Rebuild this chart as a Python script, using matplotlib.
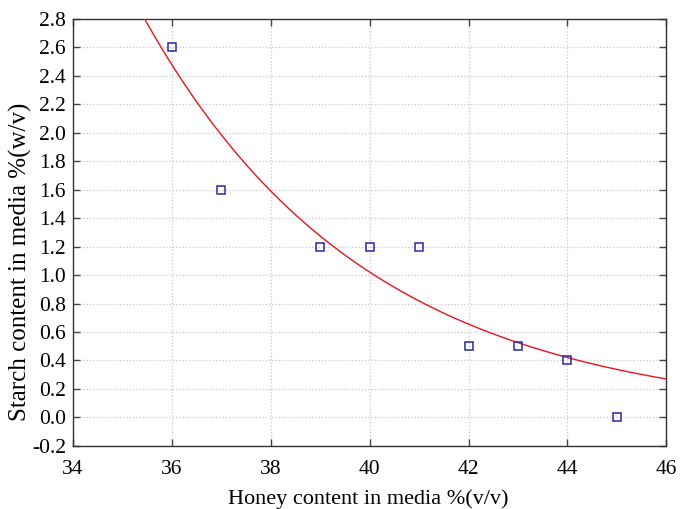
import numpy as np
import matplotlib
matplotlib.use('Agg')
import matplotlib.pyplot as plt

# measured points
honey = [36, 37, 39, 40, 41, 42, 43, 44, 45]
starch = [2.6, 1.6, 1.2, 1.2, 1.2, 0.5, 0.5, 0.4, 0.0]

# exponential fit: y = fit_a * exp(-fit_b * (x - 36))
fit_a = 2.477
fit_b = 0.2216

plt.rcParams['font.family'] = ['Liberation Serif', 'DejaVu Serif']

fig = plt.figure(figsize=(6.89, 5.09), dpi=100)
ax = fig.add_axes([0.106, 0.124, 0.861, 0.839])

xs = np.linspace(34, 46, 400)
ax.plot(xs, fit_a * np.exp(-fit_b * (xs - 36)), color='#e8141c', lw=1.0, zorder=3)
ax.plot(honey, starch, 's', mfc='none', mec='#2a2a9c', ms=6, mew=1.1, zorder=4)

ax.set_xlim(34, 46)
ax.set_ylim(-0.2, 2.8)
ax.set_xticks(np.arange(34, 46.1, 2))
ax.set_yticks(np.round(np.arange(-0.2, 2.81, 0.2), 1))
ax.yaxis.set_major_formatter(matplotlib.ticker.FormatStrFormatter('%.1f'))
ax.grid(True, color='#c8c8c8', ls=':', lw=0.9)
ax.tick_params(direction='in', top=True, right=True, length=5, width=1.0,
               labelsize=15.5, color='#444444', pad=5)
ax.tick_params(axis='x', pad=10)
for s in ax.spines.values():
    s.set_color('#333333')
    s.set_linewidth(1.0)

ax.set_xlabel('Honey content in media %(v/v)', fontsize=16)
ax.xaxis.set_label_coords(0.497, -0.102)
ax.set_ylabel('Starch content in media %(w/v)', fontsize=18)
ax.yaxis.set_label_coords(-0.069, 0.431)

fig.savefig('out.png', dpi=100)
